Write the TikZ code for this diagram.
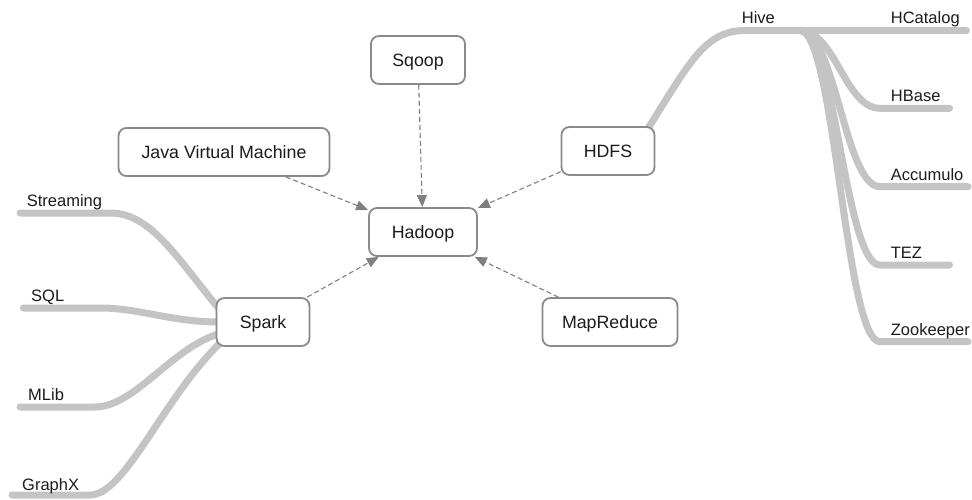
\documentclass[tikz,border=0pt]{standalone}
\usepackage{fontspec}
\setmainfont{Liberation Sans}
\usetikzlibrary{arrows.meta,backgrounds}
\definecolor{branchc}{RGB}{196,196,196}
\definecolor{boxc}{RGB}{138,138,138}
\definecolor{arrc}{RGB}{128,128,128}
\definecolor{txtc}{RGB}{28,28,28}
\begin{document}
\begin{tikzpicture}[x=1pt,y=-1pt,
  box/.style={draw=boxc, line width=1.8pt, rounded corners=8pt, fill=white,
    minimum height=48pt, inner xsep=0pt, inner ysep=0pt, text=txtc,
    text height=12.7pt, text depth=0pt, font=\fontsize{17.8}{20}\selectfont},
  dep/.style={draw=arrc, line width=1.1pt, dash pattern=on 5pt off 3pt,
    -{Triangle[length=12pt,width=10pt]}},
  branch/.style={draw=branchc, line width=7pt, line cap=round, shorten <=-5pt},
  lbl/.style={text=txtc, font=\fontsize{16.5}{19}\selectfont, inner sep=0pt, anchor=base west}]
\useasboundingbox (0,0) rectangle (972,500);

% boxes
\node[box, minimum width=108pt] (hadoop) at (423,232) {Hadoop};
\node[box, minimum width=94pt]  (sqoop)  at (418,60)  {Sqoop};
\node[box, minimum width=211pt] (jvm)    at (224,152) {Java Virtual Machine};
\node[box, minimum width=93pt]  (hdfs)   at (608,151) {HDFS};
\node[box, minimum width=135pt] (mapred) at (610,322) {MapReduce};
\node[box, minimum width=93pt]  (spark)  at (263,322) {Spark};

% free ends of the branches
\coordinate (streamE) at (20,213);
\coordinate (sqlE)    at (23.5,308);
\coordinate (mlibE)   at (20,407);
\coordinate (graphxE) at (12,495);
\coordinate (hivej)   at (805,30.5);
\coordinate (hcatE)   at (966.5,30.5);
\coordinate (hbaseE)  at (949.5,108.3);
\coordinate (accE)    at (968,186.7);
\coordinate (tezE)    at (949.5,265);
\coordinate (zooE)    at (968,341.7);

% labels
\node[lbl] (lstream) at (26.7,206.5) {Streaming};
\node[lbl] (lsql)    at (31,301)    {SQL};
\node[lbl] (lmlib)   at (28,400.5)  {MLib};
\node[lbl] (lgraphx) at (22,490.5)  {GraphX};
\node[lbl] (lhive)   at (741.7,24)  {Hive};
\node[lbl] (lhcat)   at (890.7,24)  {HCatalog};
\node[lbl] (lhbase)  at (890.7,101.7) {HBase};
\node[lbl] (lacc)    at (890.7,180) {Accumulo};
\node[lbl] (ltez)    at (890.7,258.3) {TEZ};
\node[lbl] (lzoo)    at (890.7,335) {Zookeeper};

\begin{scope}[on background layer]
  \fill[white] (0,0) rectangle (972,500);
  % Spark branches
  \draw[branch] (spark.160) .. controls (175,255) and (150,213) .. (110,213) -- (streamE);
  \draw[branch] (spark.180) .. controls (170,322) and (140,308) .. (100,308) -- (sqlE);
  \draw[branch] (spark.195) .. controls (172,347) and (135,407) .. (95,407) -- (mlibE);
  \draw[branch] (spark.208) .. controls (162,400) and (125,495) .. (90,495) -- (graphxE);
  % HDFS -> Hive
  \draw[branch] (hdfs.31) .. controls (690,62) and (705,30.5) .. (745,30.5) -- (hivej);
  % Hive branches
  \draw[branch] (hivej) -- (hcatE);
  \draw[branch] (hivej) .. controls (835,30.5) and (845,108.3) .. (880,108.3) -- (hbaseE);
  \draw[branch] (hivej) .. controls (835,30.5) and (845,186.7) .. (880,186.7) -- (accE);
  \draw[branch] (hivej) .. controls (835,30.5) and (845,265) .. (880,265) -- (tezE);
  \draw[branch] (hivej) .. controls (835,30.5) and (845,341.7) .. (880,341.7) -- (zooE);
\end{scope}

% dependencies
\draw[dep] (sqoop) -- (hadoop);
\draw[dep] (jvm) -- (hadoop);
\draw[dep] (hdfs) -- (hadoop);
\draw[dep] (spark) -- (hadoop);
\draw[dep] (mapred) -- (hadoop);
\end{tikzpicture}
\end{document}
